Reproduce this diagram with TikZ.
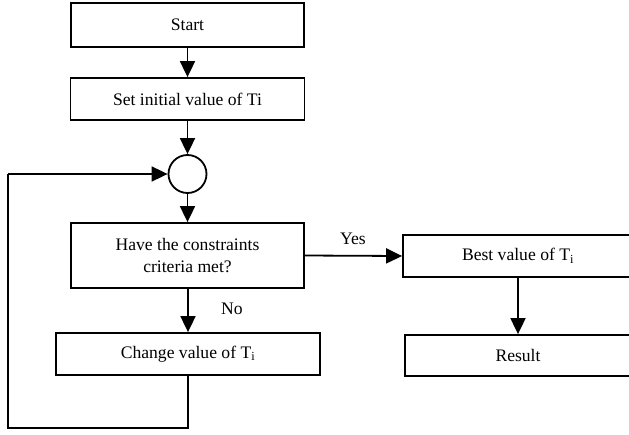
\documentclass[tikz,border=0pt]{standalone}
\usepackage{fontspec}
\setmainfont{Liberation Serif}
\usetikzlibrary{arrows.meta}
\begin{document}
\begin{tikzpicture}[x=1pt,y=-1pt,
  box/.style={draw, line width=1.8pt, rectangle, inner sep=0pt, align=center,
    font=\fontsize{17.6}{22}\selectfont},
  lbl/.style={font=\fontsize{17.6}{22}\selectfont, inner sep=0pt},
  flow/.style={line width=1.8pt, -{Triangle[length=16pt,width=15pt]}},
  plain/.style={line width=1.8pt}]
\useasboundingbox (0,0) rectangle (629,434);
\node[box, minimum width=233pt, minimum height=44pt] (start) at (187.5,25) {Start};
\node[box, minimum width=234pt, minimum height=42pt] (init) at (187.5,99) {Set initial value of Ti};
\node[draw, circle, line width=1.8pt, minimum size=38pt, inner sep=0pt] (circ) at (187.5,174) {};
\node[box, minimum width=233pt, minimum height=65pt] (have) at (187.5,255.5) {Have the constraints\\criteria met?};
\node[box, minimum width=264pt, minimum height=42pt] (change) at (188,354) {Change value of T\textsubscript{i}};
\node[box, minimum width=230pt, minimum height=42pt] (best) at (518,256) {Best value of T\textsubscript{i}};
\node[box, minimum width=226pt, minimum height=41pt] (result) at (518,355.5) {Result};
\node[lbl] (yes) at (353,239) {Yes};
\node[lbl] (no) at (232,309) {No};
\coordinate (c1) at (188,428);
\coordinate (c2) at (8,428);
\coordinate (c3) at (8,174);
\draw[flow] (start) -- (init);
\draw[flow] (init) -- (circ);
\draw[flow] (circ) -- (have);
\draw[flow] (have.south -| change.north) -- (change.north);
\draw[flow] (have.east) -- (best.west);
\draw[flow] (best) -- (result);
\draw[plain] (change.south) -- (c1) -- (c2) -- (c3);
\draw[flow] (c3) -- (circ.west);
\end{tikzpicture}
\end{document}
